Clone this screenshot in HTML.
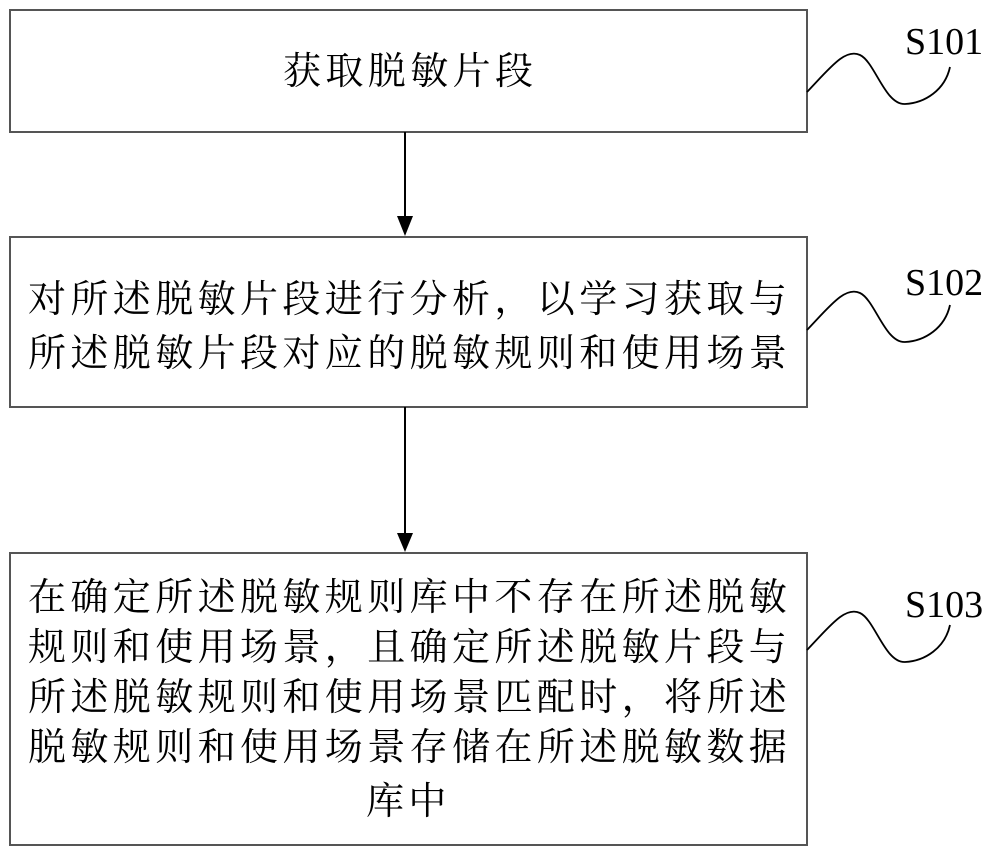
<!DOCTYPE html>
<html><head><meta charset="utf-8"><style>
body{margin:0;background:#fff;}
.c{position:absolute;font-family:"Liberation Serif","Noto Serif CJK SC","Noto Sans CJK SC",serif;font-size:38px;color:#000;letter-spacing:4.4px;white-space:nowrap;line-height:50px;}
.s{position:absolute;font-family:"Liberation Serif",serif;font-size:38px;}
</style></head><body>
<div style="position:relative;width:1000px;height:857px;overflow:hidden">
<svg width="1000" height="857" style="position:absolute;left:0;top:0">
<g fill="none" stroke="#555" stroke-width="2">
<rect x="10" y="10" width="797" height="122"/>
<rect x="10" y="237" width="797" height="170"/>
<rect x="10" y="553" width="797" height="292"/>
</g>
<g stroke="#000" stroke-width="2">
<line x1="405" y1="132" x2="405" y2="218"/>
<line x1="405" y1="407" x2="405" y2="535"/>
</g>
<polygon points="397,216 413,216 405,236" fill="#000"/>
<polygon points="397,533 413,533 405,552" fill="#000"/>
<g fill="none" stroke="#000" stroke-width="1.8">
<path d="M807,92 C830,68 845,48 860,55 C875,62 885,105 905,104 C925,103 945,90 950,67"/>
<path d="M807,330 C830,306 845,286 860,293 C875,300 885,343 905,342 C925,341 945,328 950,305"/>
<path d="M807,650 C830,626 845,606 860,613 C875,620 885,663 905,662 C925,661 945,648 950,625"/>
</g>
</svg>
<div class="s" style="left:905px;top:20px">S101</div>
<div class="s" style="left:905px;top:261px">S102</div>
<div class="s" style="left:905px;top:583px">S103</div>
<div class="c" style="left:283px;top:47px">获取脱敏片段</div>
<div class="c" style="left:28px;top:273px;line-height:54px">对所述脱敏片段进行分析，以学习获取与<br>所述脱敏片段对应的脱敏规则和使用场景</div>
<div class="c" style="left:28px;top:573px">在确定所述脱敏规则库中不存在所述脱敏<br>规则和使用场景，且确定所述脱敏片段与<br>所述脱敏规则和使用场景匹配时，将所述<br>脱敏规则和使用场景存储在所述脱敏数据</div>
<div class="c" style="left:366px;top:777px">库中</div>
</div>
</body></html>
